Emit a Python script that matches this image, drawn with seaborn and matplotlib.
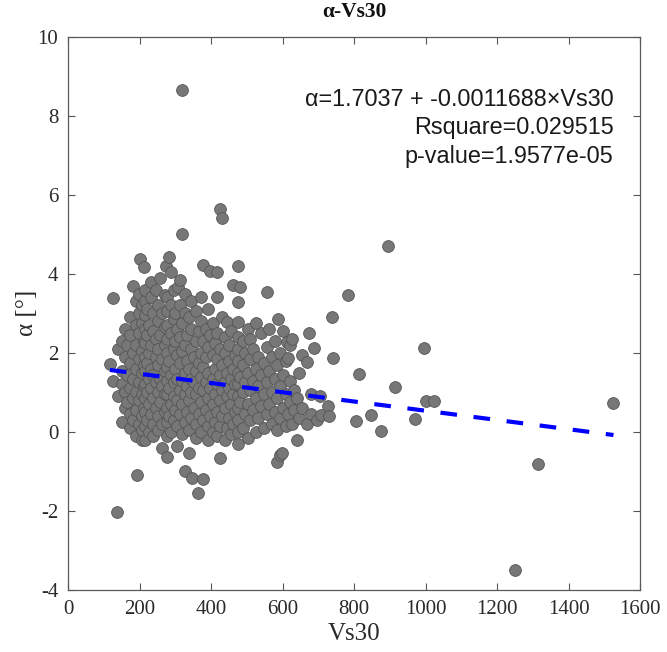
import matplotlib
matplotlib.use("Agg")
import matplotlib.pyplot as plt
import seaborn as sns
import pandas as pd

# ---- data (Vs30, [alpha values at that Vs30]) ----
stacks_left = [
    (117, [1.73]), (127, [1.30, 3.38]), (136, [-2.03]), (140, [0.9, 2.1]),
    (150, [0.25, 1.2, 1.55, 2.3]), (158, [0.6, 1.0, 1.9, 2.6]),
    (164, [0.75, 1.45, 2.2]), (172, [0.1, 0.45, 1.1, 1.75, 2.45, 2.9]),
    (181, [3.69, 0.3, 0.85, 1.35, 2.0]),
    (190, [-0.1, 0.55, 1.0, 1.6, 2.2, 2.7, 3.3]), (192, [-1.08]),
    (198, [0.2, 0.8, 1.25, 1.85, 2.5, 3.0, 3.5]), (201, [4.37]),
    (206, [-0.2, 0.05, 0.4, 0.95, 1.5, 2.05, 2.75, 3.2]),
    (212, [4.17, 0.6, 1.15, 1.7, 2.3]),
    (215, [-0.21, 0.15, 0.5, 0.85, 1.2, 1.55, 1.9, 2.25, 2.6, 2.95, 3.3, 3.6]),
    (220, [0.3, 1.0, 1.75, 2.45, 3.1]), (226, [0.0, 0.7, 1.35, 2.0, 2.7]),
    (232, [0.45, 1.1, 1.6, 2.2, 3.4, 3.8]),
    (238, [-0.1, 0.2, 0.85, 1.45, 2.55, 3.0]),
    (245, [0.6, 1.25, 1.9, 2.35, 3.6]),
    (252, [0.05, 0.4, 1.0, 1.7, 2.1, 2.8, 3.2]),
    (258, [0.75, 1.35, 2.45, 3.9]), (263, [-0.41, 0.2, 1.15, 1.85, 3.0]),
    (270, [0.5, 0.95, 1.55, 2.2, 2.65, 3.45]), (274, [4.19]),
]
stacks_mid = [
    (277, [-0.64, -0.1, 0.25, 0.6, 0.95, 1.3, 1.65, 2.0, 2.35, 2.7, 3.05, 3.4]),
    (283, [4.42, 0.4, 1.1, 1.8]), (288, [4.04, 0.0, 0.7, 1.45, 2.5, 3.2]),
    (295, [0.3, 0.9, 1.25, 2.1, 2.85, 3.6]), (300, [0.55, 1.6, 2.3, 3.0]),
    (305, [-0.36, 0.15, 0.8, 1.35, 1.95, 2.6]), (308, [3.66]),
    (313, [3.83, 0.45, 1.05, 1.75, 2.4, 3.2]), (319, [5.0, 8.65]),
    (320, [-0.05, 0.7, 1.3, 2.05, 2.75]),
    (327, [-0.99, 0.25, 0.95, 1.5, 2.2, 3.0, 3.5]),
    (333, [0.5, 1.15, 1.8, 2.45]), (338, [-0.54, 0.05, 0.8, 1.6, 2.9]),
    (345, [0.35, 1.0, 1.35, 2.1, 2.6, 3.3]), (347, [-1.17]),
    (352, [0.6, 1.25, 1.9]), (358, [-0.15, 0.2, 0.95, 1.55, 2.3, 3.05]),
    (364, [-1.55]), (365, [0.45, 1.1, 1.75, 2.55]),
    (372, [0.0, 0.75, 1.4, 2.0, 2.8, 3.4]),
    (378, [-1.2, 4.21, 0.3, 1.05, 1.65, 2.3]), (385, [0.55, 1.25, 1.9, 2.6]),
    (392, [-0.2, 0.15, 0.85, 1.5, 2.15, 3.1]), (397, [4.06, 0.4, 1.1, 2.45]),
    (404, [0.0, 0.7, 1.35, 1.95, 2.75]), (410, [0.25, 0.95, 1.6, 2.25]),
    (417, [4.04, 3.41, -0.1, 0.5, 1.2, 1.85, 2.5]),
    (425, [-0.67, 5.65, 0.15, 0.8, 1.45, 2.1]),
    (431, [5.4, 0.4, 1.05, 1.7, 2.9]), (438, [-0.2, 0.6, 1.25, 2.0, 2.4]),
    (444, [2.77, 0.1, 0.9, 1.5]), (450, [0.35, 1.1, 1.8, 2.2]),
    (457, [-0.05, 0.7, 1.35, 2.55]), (462, [3.71, 0.2, 0.95, 1.6]),
    (468, [0.5, 1.2, 1.95]),
]
stacks_right = [
    (475, [4.19, 3.28, 2.77, -0.3, 0.0, 0.3, 0.6, 0.9, 1.2, 1.5, 1.8, 2.1, 2.4]),
    (481, [3.66, 0.75, 1.4]), (488, [0.1, 1.0, 1.7, 2.3]),
    (495, [0.45, 1.25, 2.0]), (502, [-0.15, 0.7, 1.5, 2.6]),
    (510, [0.3, 1.05, 1.85, 2.35]), (518, [0.55, 1.3, 2.1]),
    (525, [0.0, 0.85, 1.6, 2.75]), (532, [0.35, 1.15, 1.9]),
    (540, [0.65, 1.45, 2.5]), (548, [0.1, 0.95, 1.75]),
    (556, [3.53, 0.45, 1.25, 2.15]), (563, [0.7, 1.55, 2.6]),
    (570, [0.2, 1.0, 1.9]), (578, [0.5, 1.35, 2.3]),
    (585, [-0.77, 0.05, 0.85, 1.7]), (588, [2.85]),
    (593, [-0.59, 0.35, 1.15, 2.0]), (599, [-0.54]),
    (600, [0.6, 1.45, 2.55]), (608, [0.15, 0.95, 1.8]), (613, [2.27]),
    (615, [1.87, 0.45]), (620, [0.75, 1.3, 2.2]), (627, [2.34, 0.2]),
    (633, [0.55, 1.05]), (640, [-0.21, 0.85]), (646, [1.49, 0.35]),
    (655, [0.6, 1.95]), (669, [1.76, 0.2]), (674, [2.49]),
    (680, [0.45, 0.95]), (688, [2.12]), (695, [0.3]),
]
stacks_sparse = [
    (705, [0.9]), (708, [0.42]), (727, [0.65]), (730, [0.4]), (738, [2.9]),
    (741, [1.87]), (783, [3.46]), (806, [0.27]), (814, [1.46]),
    (848, [0.42]), (876, [0.02]), (895, [4.7]), (915, [1.13]),
    (971, [0.32]), (996, [2.12]), (1001, [0.78]), (1024, [0.78]),
    (1250, [-3.5]), (1315, [-0.82]), (1525, [0.74]),
]

intercept = 1.7037
slope = -0.0011688
annotation_lines = [
    f"α={intercept:.4f} + {slope:.7f}×Vs30",
    "Rsquare=0.029515",
    "p-value=1.9577e-05",
]
x_ticks = [0, 200, 400, 600, 800, 1000, 1200, 1400, 1600]
y_ticks = [-4, -2, 0, 2, 4, 6, 8, 10]

rows = []
for group in (stacks_left, stacks_mid, stacks_right, stacks_sparse):
    for v, ys in group:
        for a in ys:
            rows.append((v, a))
df = pd.DataFrame(rows, columns=["Vs30", "alpha"])

xfit = [df["Vs30"].min(), df["Vs30"].max()]
fit = pd.DataFrame({"Vs30": xfit, "alpha": [intercept + slope * x for x in xfit]})

sns.set_style("white")
plt.rcParams["font.family"] = ["Liberation Serif", "DejaVu Serif"]
plt.rcParams["axes.unicode_minus"] = False

fig = plt.figure(figsize=(6.67, 6.52), dpi=100)
ax = fig.add_axes([0.102, 0.095, 0.858, 0.849])

sns.scatterplot(data=df, x="Vs30", y="alpha", ax=ax, s=72,
                color="#777777", edgecolor="#555555", linewidth=0.6,
                alpha=1.0, zorder=2)
sns.lineplot(data=fit, x="Vs30", y="alpha", ax=ax, color="#0000ff",
             linewidth=3.0, zorder=3)
ax.lines[-1].set_dashes([4, 4])

ax.set_xlim(0, 1600)
ax.set_ylim(-4, 10)
ax.set_xticks(x_ticks)
ax.set_yticks(y_ticks)
ax.tick_params(direction="in", length=5, width=0.8, color="#555555",
               labelsize=15, labelcolor="#2a2a2a", top=True, right=True,
               bottom=True, left=True)
ax.tick_params(axis="x", pad=7)
ax.tick_params(axis="y", pad=7)
for sp in ax.spines.values():
    sp.set_visible(True)
    sp.set_color("#5a5a5a")
    sp.set_linewidth(0.9)

ax.set_xlabel("Vs30", fontsize=18, color="#2a2a2a", labelpad=3)
ax.set_ylabel("α [°]", fontsize=18, color="#2a2a2a", labelpad=0)
ax.set_title("α-Vs30", fontsize=15.5, fontweight="bold", color="#111111", pad=14)

for i, line in enumerate(annotation_lines):
    ax.text(0.953, 0.887 - i * 0.0515, line, transform=ax.transAxes,
            ha="right", va="center", fontsize=16.8,
            family=["Liberation Sans", "DejaVu Sans"], color="#1a1a1a")

fig.savefig("out.png", dpi=100)
